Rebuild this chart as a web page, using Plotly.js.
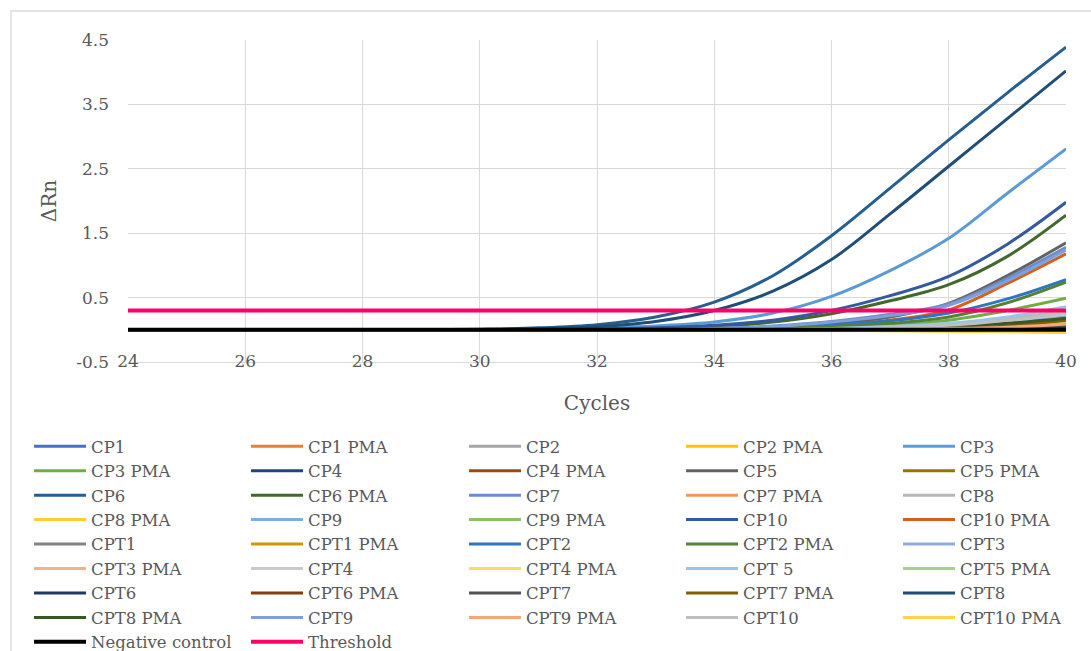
<!DOCTYPE html>
<html>
<head>
<meta charset="utf-8">
<script src="https://cdn.plot.ly/plotly-3.0.1.min.js"></script>
<style>html,body{margin:0;padding:0;background:#fff;}#chart{width:1091px;height:651px;}</style>
</head>
<body>
<div id="chart"></div>
<script>
const cycles = [24,25,26,27,28,29,30,31,32,33,34,35,36,37,38,39,40];
const yTickVals = [-0.5,0.5,1.5,2.5,3.5,4.5];
const yTickText = ["-0.5","0.5","1.5","2.5","3.5","4.5"];

const CP1       = [0,0,0,0,0,0,0,0,0,0,0,0.005,0.01,0.02,0.03,0.05,0.08];
const CP1_PMA   = [0,0,0,0,0,0,0,0,0,0,0,0,0.005,0.01,0.02,0.04,0.06];
const CP2       = [0,0,0,0,0,0,0,0,0,0,0,0.005,0.01,0.02,0.04,0.08,0.14];
const CP2_PMA   = [0,0,0,0,0,0,0,0,0,-0.005,-0.005,-0.01,-0.01,-0.015,-0.02,-0.03,-0.04];
const CP3       = [0,0,0,0,0,0,0,0.01,0.03,0.06,0.12,0.26,0.52,0.92,1.42,2.12,2.81];
const CP3_PMA   = [0,0,0,0,0,0,0,0,0,0,0.005,0.01,0.03,0.07,0.15,0.3,0.49];
const CP4       = [0,0,0,0,0,0,0,0,0,0,0,0,0.005,0.01,0.02,0.04,0.07];
const CP4_PMA   = [0,0,0,0,0,0,0,0,0,0,0,0,0.005,0.01,0.03,0.11,0.28];
const CP5       = [0,0,0,0,0,0,0,0,0,0,0.01,0.04,0.1,0.2,0.41,0.84,1.35];
const CP5_PMA   = [0,0,0,0,0,0,0,0,0,0,0,0,0.005,0.01,0.03,0.09,0.2];
const CP6       = [0,0,0,0,0,0,0.01,0.03,0.08,0.2,0.43,0.84,1.46,2.2,2.95,3.68,4.39];
const CP6_PMA   = [0,0,0,0,0,0,0,0,0.005,0.02,0.05,0.12,0.25,0.45,0.7,1.14,1.78];
const CP7       = [0,0,0,0,0,0,0,0,0,0,0.02,0.06,0.13,0.24,0.4,0.8,1.28];
const CP7_PMA   = [0,0,0,0,0,0,0,0,0,0,0,0,0.005,0.01,0.02,0.05,0.1];
const CP8       = [0,0,0,0,0,0,0,0,0,0,0,0,0.01,0.04,0.08,0.17,0.3];
const CP8_PMA   = [0,0,0,0,0,0,0,0,0,0,-0.005,-0.005,-0.01,-0.01,-0.015,-0.02,-0.03];
const CP9       = [0,0,0,0,0,0,0,0,0,0,0,0,0.005,0.01,0.02,0.05,0.1];
const CP9_PMA   = [0,0,0,0,0,0,0,0,0,0,0,0,0,0.005,0.01,0.03,0.06];
const CP10      = [0,0,0,0,0,0,0,0,0.01,0.03,0.07,0.15,0.3,0.53,0.83,1.33,1.98];
const CP10_PMA  = [0,0,0,0,0,0,0,0,0,0,0,0.02,0.06,0.15,0.31,0.72,1.18];
const CPT1      = [0,0,0,0,0,0,0,0,0,0,0,0,0.005,0.01,0.02,0.04,0.08];
const CPT1_PMA  = [0,0,0,0,0,0,0,0,0,0,0,0,-0.005,-0.005,-0.01,-0.015,-0.02];
const CPT2      = [0,0,0,0,0,0,0,0,0,0,0.01,0.04,0.08,0.14,0.26,0.48,0.78];
const CPT2_PMA  = [0,0,0,0,0,0,0,0,0,0,0.005,0.02,0.05,0.1,0.2,0.42,0.74];
const CPT3      = [0,0,0,0,0,0,0,0,0,0,0,0,0.01,0.03,0.06,0.12,0.2];
const CPT3_PMA  = [0,0,0,0,0,0,0,0,0,0,0,0,0.005,0.01,0.02,0.04,0.08];
const CPT4      = [0,0,0,0,0,0,0,0,0,0,0,0,0.01,0.03,0.07,0.14,0.25];
const CPT4_PMA  = [0,0,0,0,0,0,0,0,0,0,0,-0.005,-0.005,-0.01,-0.015,-0.025,-0.035];
const CPT5      = [0,0,0,0,0,0,0,0,0,0,0,0.005,0.02,0.05,0.1,0.2,0.36];
const CPT5_PMA  = [0,0,0,0,0,0,0,0,0,0,0,0,0.005,0.01,0.03,0.06,0.12];
const CPT6      = [0,0,0,0,0,0,0,0,0,0,0,0,0.005,0.01,0.02,0.03,0.05];
const CPT6_PMA  = [0,0,0,0,0,0,0,0,0,0,0,0,0,0.005,0.01,0.03,0.08];
const CPT7      = [0,0,0,0,0,0,0,0,0,0,0,0,0.005,0.01,0.02,0.04,0.07];
const CPT7_PMA  = [0,0,0,0,0,0,0,0,0,0,0,0,0.005,0.01,0.02,0.06,0.15];
const CPT8      = [0,0,0,0,0,0,0.005,0.015,0.05,0.13,0.3,0.6,1.09,1.8,2.54,3.28,4.02];
const CPT8_PMA  = [0,0,0,0,0,0,0,0,0,0,0,0.005,0.01,0.02,0.05,0.1,0.18];
const CPT9      = [0,0,0,0,0,0,0,0,0,0,0.015,0.05,0.12,0.22,0.38,0.76,1.24];
const CPT9_PMA  = [0,0,0,0,0,0,0,0,0,0,0,0,0.005,0.01,0.02,0.04,0.09];
const CPT10     = [0,0,0,0,0,0,0,0,0,0,0,0,0.01,0.03,0.07,0.15,0.27];
const CPT10_PMA = [0,0,0,0,0,0,0,0,0,0,0,0,-0.005,-0.01,-0.015,-0.02,-0.03];
const NEG_CTRL  = [0,0,0,0,0,0,0,0,0,0,0,0,0,0,0,0,0];
const THRESHOLD = [0.3,0.3,0.3,0.3,0.3,0.3,0.3,0.3,0.3,0.3,0.3,0.3,0.3,0.3,0.3,0.3,0.3];

const seriesNames = ["CP1","CP1 PMA","CP2","CP2 PMA","CP3","CP3 PMA","CP4","CP4 PMA","CP5","CP5 PMA",
  "CP6","CP6 PMA","CP7","CP7 PMA","CP8","CP8 PMA","CP9","CP9 PMA","CP10","CP10 PMA",
  "CPT1","CPT1 PMA","CPT2","CPT2 PMA","CPT3","CPT3 PMA","CPT4","CPT4 PMA","CPT 5","CPT5 PMA",
  "CPT6","CPT6 PMA","CPT7","CPT7 PMA","CPT8","CPT8 PMA","CPT9","CPT9 PMA","CPT10","CPT10 PMA",
  "Negative control","Threshold"];
const seriesValues = [CP1,CP1_PMA,CP2,CP2_PMA,CP3,CP3_PMA,CP4,CP4_PMA,CP5,CP5_PMA,
  CP6,CP6_PMA,CP7,CP7_PMA,CP8,CP8_PMA,CP9,CP9_PMA,CP10,CP10_PMA,
  CPT1,CPT1_PMA,CPT2,CPT2_PMA,CPT3,CPT3_PMA,CPT4,CPT4_PMA,CPT5,CPT5_PMA,
  CPT6,CPT6_PMA,CPT7,CPT7_PMA,CPT8,CPT8_PMA,CPT9,CPT9_PMA,CPT10,CPT10_PMA,
  NEG_CTRL,THRESHOLD];
const seriesColors = ["#4472C4","#ED7D31","#A5A5A5","#FFC000","#5B9BD5","#70AD47","#264478","#9E480E","#636363","#997300",
  "#255E91","#43682B","#698ED0","#F1975A","#B7B7B7","#FFCD33","#7CAFDD","#8CC168","#335AA1","#D2611C",
  "#848484","#CC9A00","#2E75C2","#548235","#8FAADC","#F4B183","#C9C9C9","#FFD966","#9DC3E6","#A9D18E",
  "#203864","#843C0C","#525252","#7F6000","#1F4E79","#385723","#7F9FD9","#F4A77A","#BFBFBF","#FFD547",
  "#000000","#FF0066"];

const FONT = "DejaVu Serif, serif";
const LEGEND_IDS = ["legend","legend2","legend3","legend4","legend5"];
const LEGEND_X = [-0.1055, 0.1258, 0.3582, 0.5896, 0.8209];

const traces = seriesNames.map((n, i) => ({
  type: "scatter", mode: "lines", name: n, x: cycles, y: seriesValues[i],
  legend: LEGEND_IDS[i % 5],
  line: {color: seriesColors[i], width: (i >= 40 ? 4 : 3), shape: "spline", smoothing: 1}
}));

const layout = {
  width: 1091, height: 651,
  margin: {l: 128, r: 25, t: 40, b: 289},
  paper_bgcolor: "#ffffff", plot_bgcolor: "#ffffff",
  font: {family: FONT, color: "#595959", size: 16},
  showlegend: true,
  xaxis: {
    range: [24, 40], tick0: 24, dtick: 2, showgrid: true, gridcolor: "#d9d9d9", gridwidth: 1.3,
    zeroline: false, showline: true, linecolor: "#d9d9d9", linewidth: 1.3,
    ticks: "", ticklabelstandoff: -17,
    tickfont: {family: FONT, size: 17, color: "#595959"},
    title: {text: "Cycles", font: {family: FONT, size: 20, color: "#595959"}, standoff: 26}
  },
  yaxis: {
    range: [-0.5, 4.5], tickmode: "array", tickvals: yTickVals, ticktext: yTickText,
    showgrid: true, gridcolor: "#d9d9d9", gridwidth: 1.3,
    zeroline: false, showline: false, ticks: "", ticklabelstandoff: 18,
    tickfont: {family: FONT, size: 17, color: "#595959"},
    title: {text: "ΔRn", font: {family: FONT, size: 20, color: "#595959"}, standoff: 14}
  },
  shapes: [{
    type: "rect", xref: "paper", yref: "paper", layer: "below",
    x0: -0.1247, x1: 1.05, y0: 1.09, y1: -1.0,
    line: {color: "#d9d9d9", width: 1.3}, fillcolor: "rgba(0,0,0,0)"
  }]
};
LEGEND_IDS.forEach((id, k) => {
  layout[id] = {
    orientation: "v", xref: "paper", yref: "container",
    x: LEGEND_X[k], xanchor: "left", y: 0.341, yanchor: "top",
    itemwidth: 52, traceorder: "normal",
    font: {family: FONT, size: 16.5, color: "#595959"}, bgcolor: "rgba(0,0,0,0)"
  };
});

Plotly.newPlot("chart", traces, layout, {displayModeBar: false, responsive: false});
</script>
</body>
</html>
